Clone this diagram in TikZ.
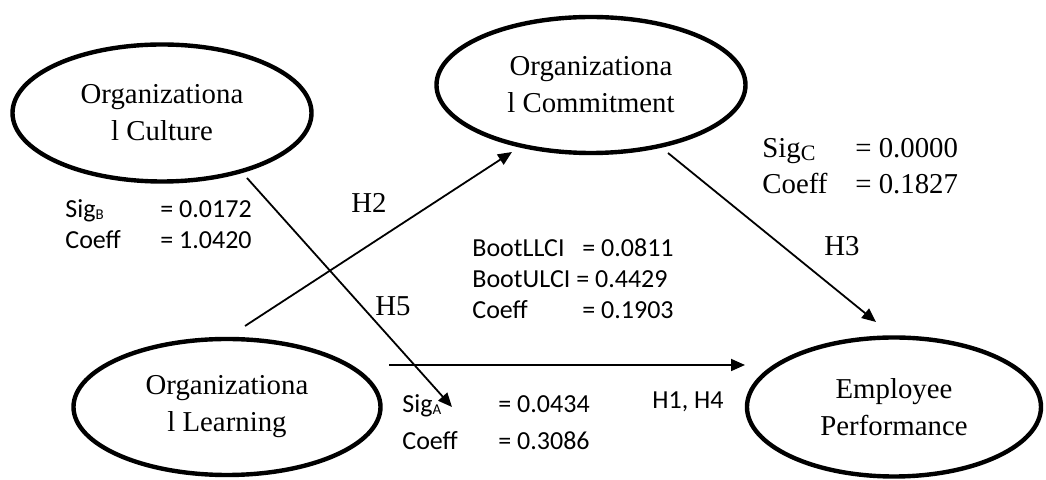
\documentclass[tikz,border=0pt]{standalone}
\usepackage{fontspec}
\setmainfont{Liberation Serif}
\newfontfamily\calibri{Carlito}
\usetikzlibrary{arrows.meta, shapes.geometric}

\newcommand{\sigsmall}[1]{Sig\raisebox{-1pt}{\fontsize{7.5}{9}\selectfont #1}}
\newcommand{\sigbig}[1]{Sig\raisebox{-1.2pt}{\fontsize{11}{13}\selectfont #1}}

\tikzset{
    construct/.style={ellipse, draw, line width=2.2pt, align=center, inner sep=0pt,
          font=\fontsize{14.4}{18.5}\selectfont},
    link/.style={line width=0.9pt, -{Triangle[length=7pt, width=6pt]}},
    hyplabel/.style={inner sep=0pt, font=\fontsize{14.4}{17}\selectfont},
    statbox/.style={anchor=base west, inner sep=0pt, font=\calibri\fontsize{13}{15.4}\selectfont}
}

\begin{document}
\begin{tikzpicture}[x=0.5pt, y=-0.5pt]
    \useasboundingbox (0,0) rectangle (1046,480);

    \node[construct, minimum width=149.5pt, minimum height=68.5pt] (culture) at (162,113) {Organizationa\\l Culture};
    \node[construct, minimum width=154.5pt, minimum height=68pt] (commit) at (591,85) {Organizationa\\l Commitment};
    \node[construct, minimum width=153.5pt, minimum height=68pt] (learning) at (227,407) {Organizationa\\l Learning};
    \node[construct, minimum width=147pt, minimum height=69.5pt] (perform) at (894,407) {Employee\\Performance};

    \coordinate (h2from) at (245,326);
    \coordinate (h2to) at (512,152);
    \coordinate (h5from) at (247,178);
    \coordinate (h5to) at (452,407);
    \coordinate (h1from) at (389,365);
    \coordinate (h1to) at (745,365);
    \coordinate (h3from) at (668,153);
    \coordinate (h3to) at (876,322);

    \draw[link] (h2from) -- (h2to);
    \draw[link] (h5from) -- (h5to);
    \draw[link] (h1from) -- (h1to);
    \draw[link] (h3from) -- (h3to);

    \node[hyplabel] (h2) at (369,203) {H2};
    \node[hyplabel] (h5) at (393,306) {H5};
    \node[hyplabel] (h3) at (842,246) {H3};
    \node[inner sep=0pt, font=\calibri\fontsize{13}{15}\selectfont] (h14) at (688,402) {H1, H4};

    \node[statbox] (statb) at (65,218) {%
      \begin{tabular}[t]{@{}l@{}}
        \makebox[47.5pt][l]{\sigsmall{B}}= 0.0172\\
        \makebox[47.5pt][l]{Coeff}= 1.0420
      \end{tabular}};
    \node[statbox] (boot) at (472,257) {%
      \begin{tabular}[t]{@{}l@{}}
        \makebox[55pt][l]{BootLLCI}= 0.0811\\
        BootULCI = 0.4429\\
        \makebox[55pt][l]{Coeff}= 0.1903
      \end{tabular}};
    \node[statbox, font=\calibri\fontsize{13}{18.5}\selectfont] (stata) at (402,413) {%
      \begin{tabular}[t]{@{}l@{}}
        \makebox[48pt][l]{\sigsmall{A}}= 0.0434\\
        \makebox[48pt][l]{Coeff}= 0.3086
      \end{tabular}};
    \node[statbox, font=\fontsize{14.4}{18}\selectfont] (statc) at (762,158) {%
      \begin{tabular}[t]{@{}l@{}}
        \makebox[46.5pt][l]{\sigbig{C}}= 0.0000\\
        \makebox[46.5pt][l]{Coeff}= 0.1827
      \end{tabular}};
\end{tikzpicture}
\end{document}
